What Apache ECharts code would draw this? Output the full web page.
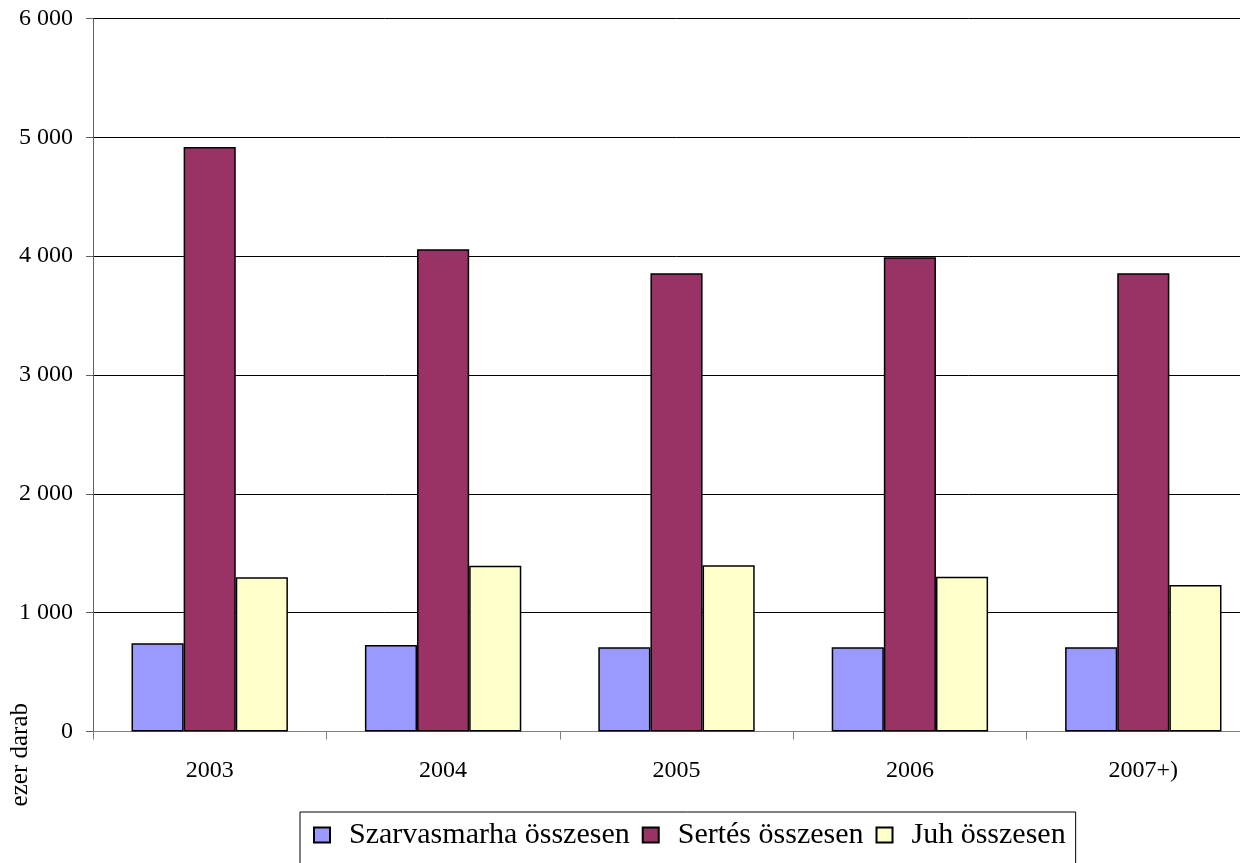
<!DOCTYPE html>
<html>
<head>
<meta charset="utf-8">
<script src="https://cdn.jsdelivr.net/npm/echarts@6/dist/echarts.min.js"></script>
<style>
html,body{margin:0;padding:0;background:#fff;overflow:hidden;}
#chart{width:1270px;height:863px;}
</style>
</head>
<body>
<div id="chart"></div>
<script>
const categories = ['2003', '2004', '2005', '2006', '2007+)'];
const szarvasmarha = [742, 727, 708, 708, 708];
const sertes = [4918, 4058, 3857, 3990, 3857];
const juh = [1297, 1394, 1400, 1302, 1232];
const seriesNames = ['Szarvasmarha összesen', 'Sertés összesen', 'Juh összesen'];
const colors = ['#9999FF', '#993366', '#FFFFCC'];
const yTicks = [0, 1000, 2000, 3000, 4000, 5000, 6000];

const font = '"Liberation Serif", "Times New Roman", serif';
const chart = echarts.init(document.getElementById('chart'));
const fmt = v => String(v).replace(/\B(?=(\d{3})+(?!\d))/g, ' ');
const mk = (name, data, color) => ({
  name, type: 'bar', data, barGap: '0%', barCategoryGap: '33%',
  itemStyle: { color, borderColor: '#000', borderWidth: 1.5 },
  emphasis: { disabled: true }
});
chart.setOption({
  animation: false,
  textStyle: { fontFamily: font },
  grid: { left: 93, top: 18.5, bottom: 131.5, right: 10, containLabel: false },
  xAxis: {
    type: 'category', data: categories,
    axisLine: { lineStyle: { color: '#808080', width: 1 } },
    axisTick: { show: true, length: 8, lineStyle: { color: '#808080' } },
    axisLabel: { color: '#000', fontSize: 24, fontFamily: font, margin: 27 }
  },
  yAxis: {
    type: 'value', min: yTicks[0], max: yTicks[yTicks.length - 1], interval: 1000,
    axisLine: { show: true, lineStyle: { color: '#606060', width: 1 } },
    axisTick: { show: true, length: 7, lineStyle: { color: '#606060' } },
    axisLabel: { color: '#000', fontSize: 24, fontFamily: font, margin: 20, formatter: fmt },
    splitLine: { lineStyle: { color: '#000', width: 1 } }
  },
  legend: {
    data: seriesNames, left: 300, top: 812,
    itemWidth: 16, itemHeight: 15, itemGap: 12,
    borderColor: '#000', borderWidth: 1, padding: [8, 10, 30, 13],
    icon: 'rect',
    textStyle: { color: '#000', fontSize: 30, fontFamily: font, padding: [0, 0, 0, 14] }
  },
  graphic: [{
    type: 'text', left: 8, top: 703, rotation: Math.PI / 2,
    style: { text: 'ezer darab', fill: '#000', font: '25px ' + font }
  }],
  series: [
    mk(seriesNames[0], szarvasmarha, colors[0]),
    mk(seriesNames[1], sertes, colors[1]),
    mk(seriesNames[2], juh, colors[2])
  ]
});
</script>
</body>
</html>
